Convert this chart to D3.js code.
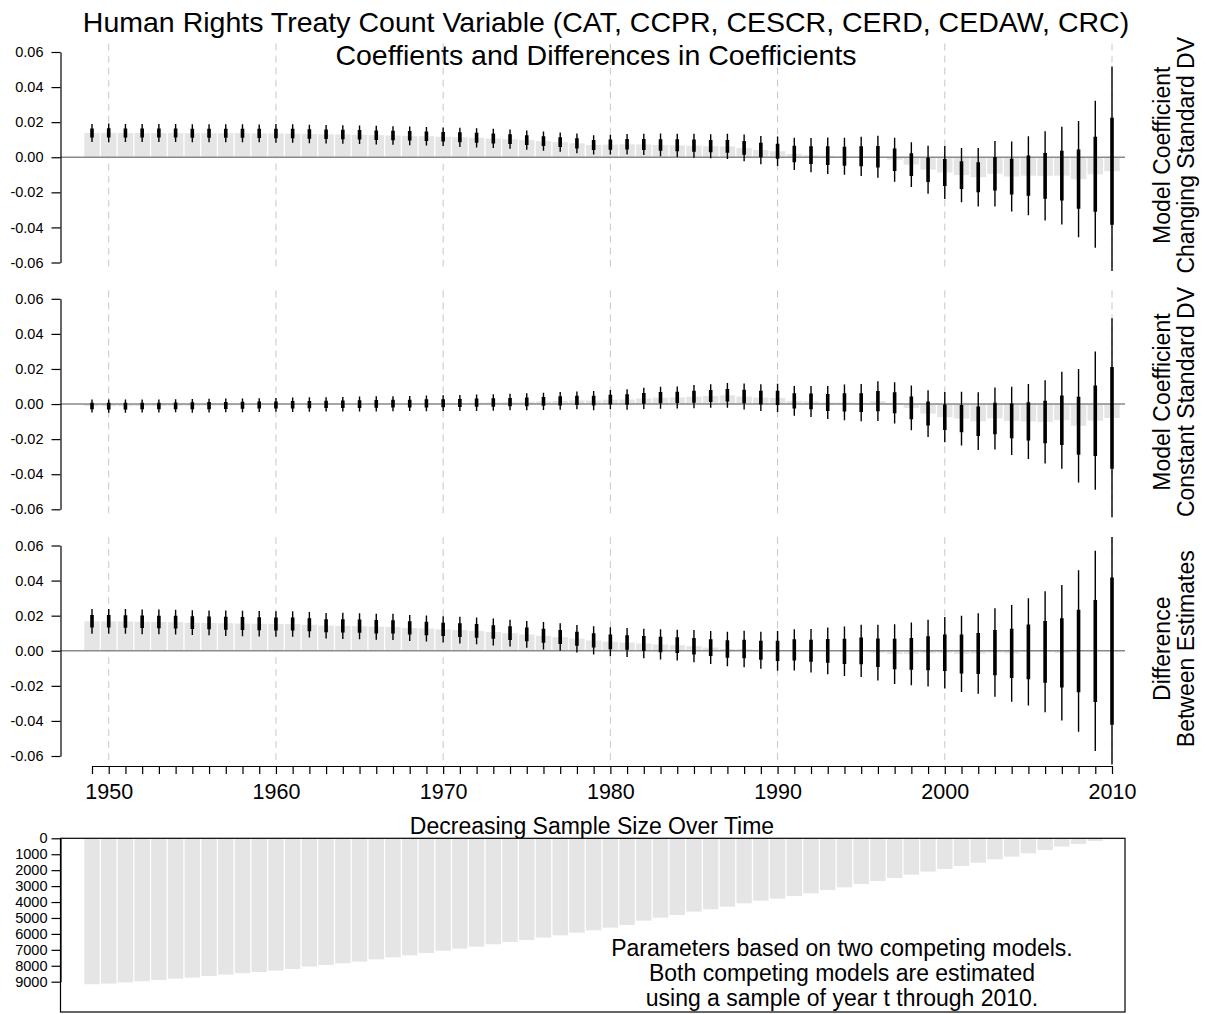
<!DOCTYPE html>
<html>
<head>
<meta charset="utf-8">
<script src="https://cdn.jsdelivr.net/npm/d3@7"></script>
<style>
  body { margin: 0; background: #fff; }
  text { font-family: "Liberation Sans", Arial, sans-serif; }
</style>
</head>
<body>
<script>
// Start years of the estimation samples (year t through 2010)
const years = [1949, 1950, 1951, 1952, 1953, 1954, 1955, 1956, 1957, 1958,
    1959, 1960, 1961, 1962, 1963, 1964, 1965, 1966, 1967, 1968,
    1969, 1970, 1971, 1972, 1973, 1974, 1975, 1976, 1977, 1978,
    1979, 1980, 1981, 1982, 1983, 1984, 1985, 1986, 1987, 1988,
    1989, 1990, 1991, 1992, 1993, 1994, 1995, 1996, 1997, 1998,
    1999, 2000, 2001, 2002, 2003, 2004, 2005, 2006, 2007, 2008,
    2009, 2010];
const decades = [1950, 1960, 1970, 1980, 1990, 2000, 2010];
const coefTicks = [-0.06, -0.04, -0.02, 0, 0.02, 0.04, 0.06];
const sampleTicks = [0, 1000, 2000, 3000, 4000, 5000, 6000, 7000, 8000, 9000];

// Model coefficient, changing standard DV
const changingEst = [0.0138, 0.0139, 0.0138, 0.0138, 0.0138, 0.0138, 0.0137, 0.0137, 0.0137, 0.0137,
    0.0136, 0.0136, 0.0135, 0.0133, 0.0131, 0.0130, 0.0128, 0.0126, 0.0124, 0.0122,
    0.0120, 0.0117, 0.0114, 0.0111, 0.0107, 0.0103, 0.0098, 0.0092, 0.0086, 0.0079,
    0.0070, 0.0072, 0.0074, 0.0073, 0.0070, 0.0068, 0.0066, 0.0063, 0.0062, 0.0053,
    0.0041, 0.0034, 0.0019, 0.0012, 0.0009, 0.0006, 0.0005, 0.0003, -0.0014, -0.0042,
    -0.0071, -0.0087, -0.0102, -0.0114, -0.0094, -0.0110, -0.0105, -0.0106, -0.0105, -0.0125,
    -0.0097, -0.0080];
const changingSe = [0.0026, 0.0027, 0.0026, 0.0026, 0.0026, 0.0026, 0.0026, 0.0026, 0.0026, 0.0026,
    0.0026, 0.0027, 0.0027, 0.0027, 0.0027, 0.0027, 0.0027, 0.0027, 0.0027, 0.0027,
    0.0027, 0.0027, 0.0028, 0.0028, 0.0028, 0.0028, 0.0028, 0.0028, 0.0028, 0.0029,
    0.0028, 0.0029, 0.0030, 0.0031, 0.0033, 0.0034, 0.0035, 0.0035, 0.0037, 0.0039,
    0.0041, 0.0043, 0.0047, 0.0050, 0.0053, 0.0054, 0.0057, 0.0061, 0.0064, 0.0065,
    0.0070, 0.0077, 0.0079, 0.0085, 0.0095, 0.0102, 0.0115, 0.0130, 0.0142, 0.0169,
    0.0214, 0.0305];

// Model coefficient, constant standard DV
const constantEst = [-0.0011, -0.0012, -0.0012, -0.0011, -0.0011, -0.0010, -0.0010, -0.0009, -0.0008, -0.0007,
    -0.0006, -0.0005, -0.0004, -0.0003, -0.0002, -0.0001, 0.0000, 0.0001, 0.0002, 0.0003,
    0.0004, 0.0005, 0.0006, 0.0008, 0.0009, 0.0011, 0.0013, 0.0015, 0.0018, 0.0021,
    0.0020, 0.0025, 0.0026, 0.0032, 0.0036, 0.0038, 0.0042, 0.0046, 0.0050, 0.0043,
    0.0037, 0.0035, 0.0018, 0.0015, 0.0009, 0.0009, 0.0008, 0.0017, 0.0007, -0.0022,
    -0.0054, -0.0075, -0.0083, -0.0098, -0.0082, -0.0096, -0.0099, -0.0102, -0.0092, -0.0124,
    -0.0095, -0.0079];
const constantSe = [0.0019, 0.0019, 0.0019, 0.0019, 0.0019, 0.0019, 0.0020, 0.0020, 0.0020, 0.0020,
    0.0020, 0.0020, 0.0021, 0.0021, 0.0021, 0.0021, 0.0022, 0.0022, 0.0022, 0.0022,
    0.0023, 0.0023, 0.0023, 0.0024, 0.0024, 0.0024, 0.0025, 0.0025, 0.0026, 0.0026,
    0.0028, 0.0028, 0.0030, 0.0031, 0.0032, 0.0032, 0.0034, 0.0034, 0.0036, 0.0038,
    0.0039, 0.0041, 0.0043, 0.0045, 0.0048, 0.0052, 0.0054, 0.0058, 0.0060, 0.0065,
    0.0068, 0.0073, 0.0078, 0.0084, 0.0090, 0.0099, 0.0109, 0.0121, 0.0141, 0.0165,
    0.0201, 0.0290];

// Difference between the two estimates
const diffEst = [0.0168, 0.0168, 0.0167, 0.0165, 0.0164, 0.0163, 0.0160, 0.0159, 0.0157, 0.0155,
    0.0154, 0.0153, 0.0152, 0.0148, 0.0143, 0.0142, 0.0140, 0.0137, 0.0136, 0.0130,
    0.0127, 0.0122, 0.0118, 0.0113, 0.0107, 0.0100, 0.0093, 0.0085, 0.0078, 0.0069,
    0.0059, 0.0051, 0.0047, 0.0041, 0.0036, 0.0032, 0.0026, 0.0018, 0.0010, 0.0010,
    0.0003, -0.0001, 0.0005, 0.0000, -0.0001, -0.0003, -0.0001, -0.0011, -0.0019, -0.0018,
    -0.0014, -0.0012, -0.0018, -0.0016, -0.0010, -0.0015, -0.0006, -0.0006, -0.0012, -0.0001,
    -0.0001, -0.0002];
const diffSe = [0.0036, 0.0036, 0.0036, 0.0036, 0.0036, 0.0036, 0.0036, 0.0036, 0.0037, 0.0037,
    0.0037, 0.0037, 0.0037, 0.0037, 0.0037, 0.0038, 0.0038, 0.0038, 0.0038, 0.0038,
    0.0038, 0.0038, 0.0039, 0.0039, 0.0039, 0.0039, 0.0039, 0.0040, 0.0040, 0.0040,
    0.0041, 0.0042, 0.0042, 0.0043, 0.0044, 0.0045, 0.0047, 0.0048, 0.0050, 0.0053,
    0.0054, 0.0058, 0.0060, 0.0063, 0.0068, 0.0072, 0.0076, 0.0081, 0.0087, 0.0091,
    0.0097, 0.0104, 0.0111, 0.0117, 0.0129, 0.0141, 0.0156, 0.0176, 0.0197, 0.0235,
    0.0291, 0.0420];

// Observations in the sample starting at each year
const sampleN = [9160, 9120, 9040, 8975, 8890, 8810, 8745, 8640, 8555, 8470,
    8390, 8305, 8200, 8050, 7950, 7845, 7740, 7595, 7470, 7345,
    7195, 7050, 6925, 6800, 6650, 6505, 6380, 6235, 6090, 5920,
    5775, 5607, 5440, 5170, 4980, 4810, 4600, 4455, 4290, 4080,
    3910, 3790, 3620, 3450, 3240, 3075, 2865, 2680, 2490, 2280,
    2090, 1925, 1740, 1530, 1320, 1150, 940, 730, 520, 355,
    170, 60];

const width = 1207;
const height = 1014;
const plotLeft = 60.5;
const plotRight = 1125;
const barWidth = 15.4;

const svg = d3.select("body")
    .append("svg")
    .attr("width", width)
    .attr("height", height);

const x = d3.scaleLinear()
    .domain([1949, 2010])
    .range([92, 1112]);

// Title
svg.append("text")
    .attr("x", 606)
    .attr("y", 32)
    .attr("text-anchor", "middle")
    .style("font-size", "28.5px")
    .text("Human Rights Treaty Count Variable (CAT, CCPR, CESCR, CERD, CEDAW, CRC)");
svg.append("text")
    .attr("x", 596)
    .attr("y", 65)
    .attr("text-anchor", "middle")
    .style("font-size", "28.5px")
    .text("Coeffients and Differences in Coefficients");

const panels = [
    { est: changingEst, se: changingSe, top: 52, label: ["Model Coefficient", "Changing Standard DV"] },
    { est: constantEst, se: constantSe, top: 298.8, label: ["Model Coefficient", "Constant Standard DV"] },
    { est: diffEst, se: diffSe, top: 545.5, label: ["Difference", "Between Estimates"] }
];

panels.forEach((p, i) => {
    const y = d3.scaleLinear()
        .domain([-0.06, 0.06])
        .range([p.top + 210.5, p.top]);
    const yHi = y(0.0648);
    const yLo = y(-0.0648);
    const rows = years.map((yr, j) => ({ year: yr, est: p.est[j], se: p.se[j] }));

    const g = svg.append("g");

    svg.append("clipPath")
        .attr("id", "clip" + i)
        .append("rect")
        .attr("x", plotLeft)
        .attr("y", yHi)
        .attr("width", plotRight - plotLeft)
        .attr("height", yLo - yHi);

    // dashed decade guides
    g.selectAll(".decade")
        .data(decades)
        .join("line")
        .attr("class", "decade")
        .attr("x1", d => x(d))
        .attr("x2", d => x(d))
        .attr("y1", yHi)
        .attr("y2", yLo)
        .attr("stroke", "#c8c8c8")
        .attr("stroke-width", 1)
        .attr("stroke-dasharray", "7,5");

    // grey bars from zero to the estimate
    g.selectAll(".bar")
        .data(rows)
        .join("rect")
        .attr("class", "bar")
        .attr("x", d => x(d.year) - barWidth / 2)
        .attr("width", barWidth)
        .attr("y", d => Math.min(y(0), y(d.est)))
        .attr("height", d => Math.abs(y(d.est) - y(0)))
        .attr("fill", "#e5e5e5");

    g.append("line")
        .attr("x1", plotLeft)
        .attr("x2", plotRight)
        .attr("y1", y(0))
        .attr("y2", y(0))
        .attr("stroke", "#8a8a8a")
        .attr("stroke-width", 1.5);

    const marks = g.append("g").attr("clip-path", `url(#clip${i})`);

    // 95% interval (thin) and +/- 1 s.e. (thick)
    marks.selectAll(".ci95")
        .data(rows)
        .join("line")
        .attr("class", "ci95")
        .attr("x1", d => x(d.year))
        .attr("x2", d => x(d.year))
        .attr("y1", d => y(d.est + 1.96 * d.se))
        .attr("y2", d => y(d.est - 1.96 * d.se))
        .attr("stroke", "#000")
        .attr("stroke-width", 1.4);

    marks.selectAll(".ci68")
        .data(rows)
        .join("line")
        .attr("class", "ci68")
        .attr("x1", d => x(d.year))
        .attr("x2", d => x(d.year))
        .attr("y1", d => y(d.est + d.se))
        .attr("y2", d => y(d.est - d.se))
        .attr("stroke", "#000")
        .attr("stroke-width", 3.6);

    const yAxis = g.append("g")
        .attr("transform", `translate(${plotLeft},0)`)
        .call(d3.axisLeft(y)
            .tickValues(coefTicks)
            .tickFormat(d => d.toFixed(2))
            .tickSize(9)
            .tickSizeOuter(0)
            .tickPadding(8));
    yAxis.attr("font-family", null).attr("font-size", null);
    yAxis.selectAll("text").style("font-size", "14.5px");
    yAxis.selectAll("path, line").attr("stroke-width", 1.2);

    // two-line label on the right
    p.label.forEach((t, k) => {
        svg.append("text")
            .attr("transform", `translate(${1170 + k * 24},${y(0) - 2}) rotate(-90)`)
            .attr("text-anchor", "middle")
            .style("font-size", "23px")
            .text(t);
    });
});

// Shared year axis
const xAxis = svg.append("g")
    .attr("transform", "translate(0,766)")
    .call(d3.axisBottom(x)
        .tickValues(years)
        .tickSize(8)
        .tickSizeOuter(0)
        .tickPadding(10)
        .tickFormat(d => d % 10 === 0 ? d : ""));
xAxis.attr("font-family", null).attr("font-size", null);
xAxis.selectAll("text").style("font-size", "21.5px");
xAxis.selectAll("path, line").attr("stroke-width", 1.2);

// Bottom panel: sample size
const n = d3.scaleLinear()
    .domain([0, 9000])
    .range([838.3, 981.7]);

svg.append("text")
    .attr("x", 592)
    .attr("y", 834)
    .attr("text-anchor", "middle")
    .style("font-size", "23px")
    .text("Decreasing Sample Size Over Time");

svg.append("g")
    .selectAll("rect")
    .data(years.map((yr, j) => ({ year: yr, n: sampleN[j] })))
    .join("rect")
    .attr("x", d => x(d.year) - barWidth / 2)
    .attr("width", barWidth)
    .attr("y", n(0))
    .attr("height", d => n(d.n) - n(0))
    .attr("fill", "#e5e5e5");

svg.append("rect")
    .attr("x", plotLeft)
    .attr("y", n(0))
    .attr("width", plotRight - plotLeft)
    .attr("height", 1012 - n(0))
    .attr("fill", "none")
    .attr("stroke", "#000")
    .attr("stroke-width", 1.2);

const nAxis = svg.append("g")
    .attr("transform", `translate(${plotLeft},0)`)
    .call(d3.axisLeft(n)
        .tickValues(sampleTicks)
        .tickSize(9)
        .tickSizeOuter(0)
        .tickPadding(4)
        .tickFormat(d => d));
nAxis.attr("font-family", null).attr("font-size", null);
nAxis.selectAll("text").style("font-size", "14.5px");
nAxis.selectAll("path, line").attr("stroke-width", 1.2);

const note = [
    "Parameters based on two competing models.",
    "Both competing models are estimated",
    "using a sample of year t through 2010."
];
svg.append("g")
    .selectAll("text")
    .data(note)
    .join("text")
    .attr("x", 842)
    .attr("y", (d, i) => 956 + i * 25)
    .attr("text-anchor", "middle")
    .style("font-size", "23px")
    .text(d => d);
</script>
</body>
</html>
